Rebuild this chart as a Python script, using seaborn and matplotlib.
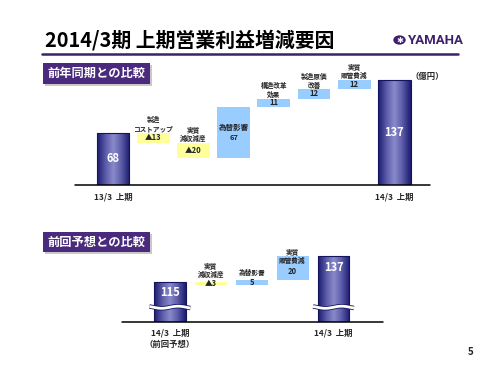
import numpy as np
import pandas as pd
import matplotlib
matplotlib.use("Agg")
import matplotlib.pyplot as plt
import seaborn as sns
from matplotlib.patches import Rectangle, Circle
from matplotlib.colors import LinearSegmentedColormap

sns.set_theme(style="white")
plt.rcParams["font.family"] = ["Noto Sans CJK JP", "DejaVu Sans"]

# ---------------- data ----------------
title = "2014/3期 上期営業利益増減要因"
panel1_title = "前年同期との比較"
panel2_title = "前回予想との比較"
unit_label = "（億円）"

top_categories = ["13/3  上期", "製造\nコストアップ", "実質\n減収減産", "為替影響",
                  "構造改革\n効果", "製造原価\n改善", "実質\n販管費減", "14/3  上期"]
top_values = [68, -13, -20, 67, 11, 12, 12, 137]
top_kinds = ["total", "change", "change", "change", "change", "change", "change", "total"]

bot_categories = ["14/3  上期\n（前回予想）", "実質\n減収減産", "為替影響", "実質\n販管費減", "14/3  上期"]
bot_values = [115, -3, 5, 20, 137]
bot_kinds = ["total", "change", "change", "change", "total"]

page_number = "5"

# ---------------- style ----------------
W, H = 500, 375
PURPLE = "#3d1f6e"
PANEL = "#4a2a7c"
YELLOW = "#ffff99"
BLUE = "#99ccff"
NAVY_EDGE = "#14145e"
navy_cmap = LinearSegmentedColormap.from_list(
    "navy", ["#1c1c70", "#5a5aa8", "#8a8acb", "#5a5aa8", "#1c1c70"])


def fmt(v):
    return ("▲%d" % -v) if v < 0 else "%d" % v


def waterfall(kinds, values, base):
    bottoms, heights, run = [], [], base
    for k, v in zip(kinds, values):
        if k == "total":
            bottoms.append(base)
            heights.append(v - base)
            run = v
        else:
            if v >= 0:
                bottoms.append(run)
                heights.append(v)
            else:
                bottoms.append(run + v)
                heights.append(-v)
            run = run + v
    return np.array(bottoms, float), np.array(heights, float)


def add_ax(fig, l, t, r, b):
    return fig.add_axes([l / W, 1 - b / H, (r - l) / W, (b - t) / H])


fig = plt.figure(figsize=(5, 3.75), dpi=100)
fig.patch.set_facecolor("white")

# header
fig.text(45 / W, 1 - 40 / H, title, fontsize=14.3, fontweight="bold", color="black",
         ha="left", va="center")
fig.add_artist(plt.Line2D([42 / W, 458 / W], [1 - 54 / H, 1 - 54 / H], color=PURPLE,
                          lw=1.8, transform=fig.transFigure))
fig.add_artist(Circle((399.5 / W, 1 - 40 / H), 6.2 / W, transform=fig.transFigure,
                      facecolor=PURPLE, edgecolor="none"))
fig.text(399.5 / W, 1 - 40.3 / H, "✱", fontsize=6, color="white", ha="center",
         va="center", family=["DejaVu Sans"])
fig.text(408 / W, 1 - 40 / H, "YAMAHA", fontsize=9.5, fontweight="bold", color=PURPLE,
         ha="left", va="center", family=["Roboto", "DejaVu Sans"])


def panel_label(text, l, t, r, b):
    fig.add_artist(Rectangle((l / W + 2 / W, 1 - (b + 2) / H), (r - l) / W, (b - t) / H,
                             transform=fig.transFigure, facecolor="#c8c8c8",
                             edgecolor="none"))
    fig.add_artist(Rectangle((l / W, 1 - b / H), (r - l) / W, (b - t) / H,
                             transform=fig.transFigure, facecolor=PANEL,
                             edgecolor="none"))
    fig.text((l + r) / 2 / W, 1 - (t + b) / 2 / H, text, fontsize=8.8, fontweight="bold",
             color="white", ha="center", va="center")


panel_label(panel1_title, 43, 63, 150, 84)
panel_label(panel2_title, 43, 232, 150, 252)


def draw_chart(ax, cats, values, kinds, base, ylim, xlim, width):
    bottoms, heights = waterfall(kinds, values, base)
    df = pd.DataFrame({"pos": [str(i) for i in range(len(cats))], "height": heights})
    sns.barplot(data=df, x="pos", y="height", bottom=bottoms, width=width,
                color=YELLOW, saturation=1, ax=ax, edgecolor="none", linewidth=0)
    for i, p in enumerate(ax.patches):
        k, v = kinds[i], values[i]
        if k == "total":
            p.set_facecolor("none")
            p.set_edgecolor(NAVY_EDGE)
            p.set_linewidth(0.8)
            p.set_zorder(3)
            x0, y0, w, h = p.get_x(), p.get_y(), p.get_width(), p.get_height()
            grad = np.linspace(0, 1, 64).reshape(1, -1)
            im = ax.imshow(grad, cmap=navy_cmap, aspect="auto",
                           extent=(x0, x0 + w, y0, y0 + h), zorder=2)
            im.set_clip_path(p)
        else:
            p.set_facecolor(BLUE if v >= 0 else YELLOW)
    ax.set_xlim(*xlim)
    ax.set_ylim(*ylim)
    ax.set_axis_off()
    ax.plot([xlim[0], xlim[1]], [base, base], color="black", lw=1.1, clip_on=False,
            zorder=5)
    return bottoms, heights


# ---------------- top chart ----------------
ax1 = add_ax(fig, 75, 70, 430, 185)
tb, th = draw_chart(ax1, top_categories, top_values, top_kinds, 0, (0, 150.3),
                    (-0.945, 7.886), 0.82)
for i, (c, v, k) in enumerate(zip(top_categories, top_values, top_kinds)):
    b, h = tb[i], th[i]
    if k == "total":
        ax1.text(i, b + h / 2, fmt(v), fontsize=8, fontweight="bold", color="white",
                 ha="center", va="center", zorder=6)
        ax1.annotate(c, xy=(i, 0), xytext=(0, -8.6), textcoords="offset points",
                     ha="center", va="center", fontsize=6, fontweight="bold")
    elif h > 30:
        ax1.text(i, b + h / 2, c + "\n" + fmt(v), fontsize=5.4, fontweight="bold",
                 ha="center", va="center", linespacing=1.5, zorder=6)
    else:
        ax1.text(i, b + h / 2, fmt(v), fontsize=5.5, fontweight="bold",
                 ha="center", va="center", zorder=6)
        ax1.annotate(c, xy=(i, b + h), xytext=(0, 0.6), textcoords="offset points",
                     ha="center", va="bottom", fontsize=4.8, fontweight="bold",
                     linespacing=1.3)
fig.text(427 / W, 1 - 77 / H, unit_label, ha="center", va="center", fontsize=6,
         fontweight="bold")

# ---------------- bottom chart ----------------
base2 = 81
ax2 = add_ax(fig, 122, 240, 383, 322)
bb, bh = draw_chart(ax2, bot_categories, bot_values, bot_kinds, base2, (base2, 150.5),
                    (-1.17, 5.21), 0.78)
for i, (c, v, k) in enumerate(zip(bot_categories, bot_values, bot_kinds)):
    b, h = bb[i], bh[i]
    if k == "total":
        ax2.annotate(fmt(v), xy=(i, b + h), xytext=(0, -8), textcoords="offset points",
                     fontsize=8, fontweight="bold", color="white", ha="center",
                     va="center", zorder=6)
        ax2.annotate(c, xy=(i, base2), xytext=(0, -4.8), textcoords="offset points",
                     ha="center", va="top", fontsize=6, fontweight="bold",
                     linespacing=1.4)
        # axis-break wave
        xs = np.linspace(i - 0.5, i + 0.5, 60)
        ys = 93.5 + 0.9 * np.sin((xs - i) * 2 * np.pi / 0.8)
        ax2.plot(xs, ys, color=NAVY_EDGE, lw=3.2, zorder=7, solid_capstyle="butt")
        ax2.plot(xs, ys, color="white", lw=2.0, zorder=8, solid_capstyle="butt")
    elif h >= 15:
        ax2.annotate(c, xy=(i, b + h), xytext=(0, 0), textcoords="offset points",
                     ha="center", va="center", fontsize=4.8, fontweight="bold",
                     linespacing=1.3, zorder=6)
        ax2.annotate(fmt(v), xy=(i, b + h), xytext=(0, -11.5), textcoords="offset points",
                     ha="center", va="center", fontsize=5.5, fontweight="bold", zorder=6)
    else:
        ax2.text(i, b + h / 2, fmt(v), fontsize=5.5, fontweight="bold",
                 ha="center", va="center", zorder=6)
        ax2.annotate(c, xy=(i, b + h), xytext=(0, 2.5), textcoords="offset points",
                     ha="center", va="bottom", fontsize=4.8, fontweight="bold",
                     linespacing=1.3)

fig.text(471 / W, 1 - 352 / H, page_number, fontsize=7, fontweight="bold",
         ha="center", va="center")

fig.savefig("out.png", dpi=100, facecolor="white")
